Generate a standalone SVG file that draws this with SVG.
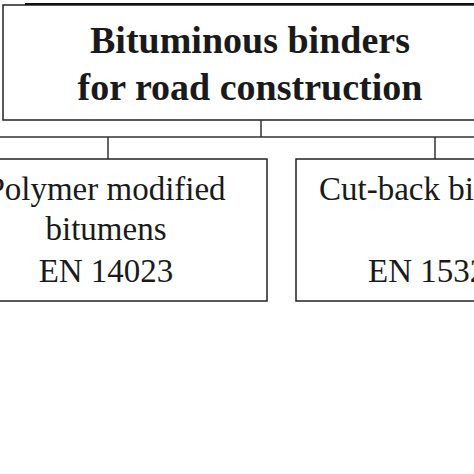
<svg xmlns="http://www.w3.org/2000/svg" width="474" height="474" viewBox="0 0 474 474">
<style>
.box{fill:#fff;stroke:#222;stroke-width:1.5}
.ln{fill:none;stroke:#333;stroke-width:1.5}
.t{font-family:"Liberation Serif","Times New Roman",serif;fill:#1a1a1a}
.title{font-size:38px;font-weight:bold;text-anchor:middle}
.lbl{font-size:33px}
</style>
<rect width="474" height="474" fill="#fff"/>
<g id="root">
<rect class="box" x="3" y="5" width="480" height="115"/>
<line x1="25" y1="4" x2="474" y2="4" stroke="#111" stroke-width="2.2"/>
<text class="t title" x="250" y="53">Bituminous binders</text>
<text class="t title" x="250" y="100">for road construction</text>
</g>
<g id="connectors">
<path class="ln" d="M261 120V137M-2 137H476M108 137V159M435 137V159"/>
</g>
<g id="pmb">
<rect class="box" x="-5" y="159" width="272" height="142"/>
<text class="t lbl" x="106" y="200" text-anchor="middle">Polymer modified</text>
<text class="t lbl" x="106" y="240" text-anchor="middle">bitumens</text>
<text class="t lbl" x="106" y="282" text-anchor="middle">EN 14023</text>
</g>
<g id="cutback">
<rect class="box" x="296" y="159" width="200" height="142"/>
<text class="t lbl" x="319" y="200">Cut-back bitumens</text>
<text class="t lbl" x="368" y="282">EN 15322</text>
</g>
</svg>
